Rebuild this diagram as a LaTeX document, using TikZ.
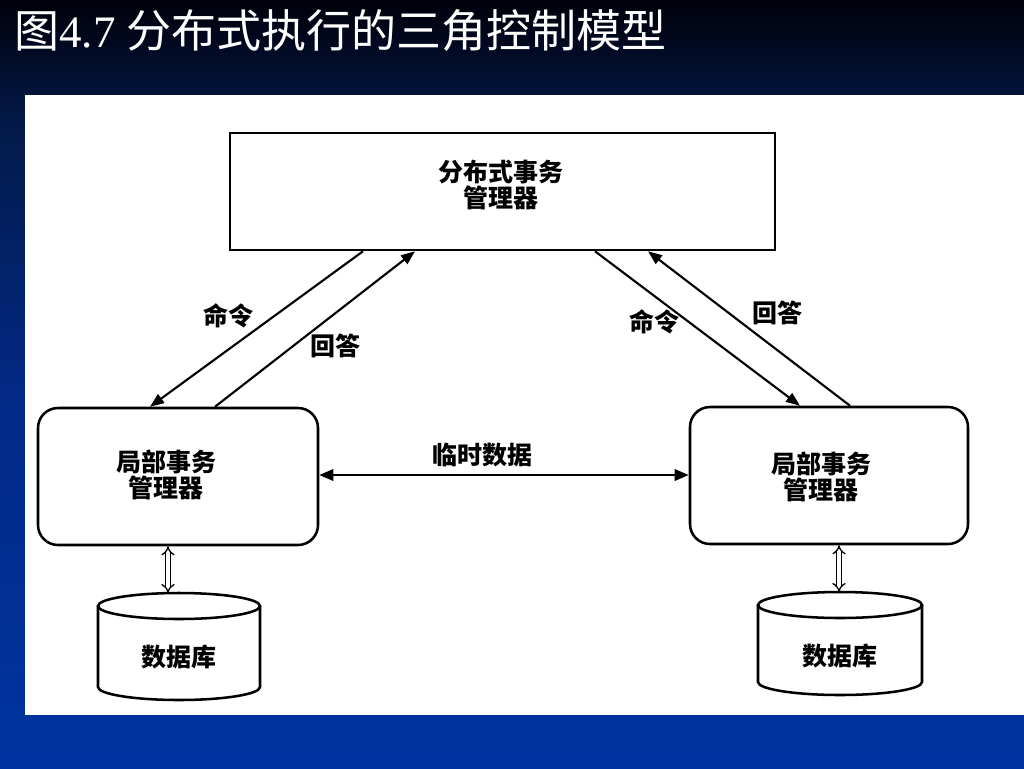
\documentclass[tikz,border=0pt]{standalone}
\usepackage{fontspec}
\setmainfont{Liberation Serif}
\newfontfamily\cjk{Noto Sans CJK SC}
\usetikzlibrary{arrows.meta,calc}
\definecolor{bgA}{RGB}{0,0,10}
\definecolor{bgB}{RGB}{3,25,72}
\definecolor{bgC}{RGB}{2,42,135}
\definecolor{bgD}{RGB}{0,51,160}
\begin{document}
\begin{tikzpicture}[x=0.75pt,y=-0.75pt,
  cjkfont/.style={font=\cjk\bfseries\fontsize{18.75pt}{19.5pt}\selectfont},
  box/.style={draw=black,line width=1.9pt,inner sep=0pt},
  lbl/.style={inner sep=0pt,align=center,cjkfont},
  arr/.style={draw=black,line width=1.6pt,-{Triangle[length=10.5pt,width=8pt]}},
  arrboth/.style={draw=black,line width=1.8pt,{Triangle[length=10.5pt,width=8.5pt]}-{Triangle[length=10.5pt,width=8.5pt]}},
  dbl/.style={draw=black,double=white,double distance=2.4pt,line width=1pt,{Implies}-{Implies}},
  cyl/.style={draw=black,line width=1.9pt}
]
\useasboundingbox (0,0) rectangle (1024,768);
% background
\shade[top color=bgA,bottom color=bgB] (0,0) rectangle (1024,121);
\shade[top color=bgB,bottom color=bgC] (0,120) rectangle (1024,401);
\shade[top color=bgC,bottom color=bgD] (0,400) rectangle (1024,768);
% title
\node[anchor=base west,text=white,inner sep=0pt,font=\fontsize{33.75pt}{36pt}\selectfont] (title) at (14,47) {{\cjk 图}4.7 {\cjk 分布式执行的三角控制模型}};
% white panel
\fill[white] (25,95) rectangle (1024,715);
% boxes
\node[box,minimum width=408.75pt,minimum height=87.75pt] (dtm) at (502.5,191.5) {};
\node[lbl] (dtmt) at (501,185) {分布式事务\\管理器};
\node[box,rounded corners=15pt,minimum width=210pt,minimum height=102.75pt] (ltmL) at (178,476.5) {};
\node[lbl] (ltmLt) at (166,475) {局部事务\\管理器};
\node[box,rounded corners=15pt,minimum width=208.5pt,minimum height=102.75pt] (ltmR) at (829,475.5) {};
\node[lbl] (ltmRt) at (821,477) {局部事务\\管理器};
% databases
\draw[cyl] (98,606) -- (98,687) arc[start angle=180,end angle=360,x radius=60.75pt,y radius=9.75pt] -- (260,606);
\draw[cyl] (179,606) ellipse[x radius=60.75pt,y radius=9.75pt];
\coordinate (db1top) at (168,593);
\node[lbl] (db1) at (179,657) {数据库};
\draw[cyl] (758,605) -- (758,682) arc[start angle=180,end angle=360,x radius=61.5pt,y radius=9.75pt] -- (922,605);
\draw[cyl] (840,605) ellipse[x radius=61.5pt,y radius=9.75pt];
\coordinate (db2top) at (839,592);
\node[lbl] (db2) at (840,656) {数据库};
% connectors
\draw[arr] (363,0 |- dtm.south) -- (150,0 |- ltmL.north);
\draw[arr] (215,0 |- ltmL.north) -- (415,0 |- dtm.south);
\draw[arr] (595,0 |- dtm.south) -- (800,0 |- ltmR.north);
\draw[arr] (850,0 |- ltmR.north) -- (648,0 |- dtm.south);
\draw[arrboth] (ltmL.east |- 0,475) -- (ltmR.west |- 0,475);
\draw[dbl] (168,0 |- ltmL.south) -- (db1top);
\draw[dbl] (839,0 |- ltmR.south) -- (db2top);
% labels
\node[lbl] (l1) at (228,316) {命令};
\node[lbl] (l2) at (335,346) {回答};
\node[lbl] (l3) at (654,322) {命令};
\node[lbl] (l4) at (777,313) {回答};
\node[lbl] (l5) at (482,455) {临时数据};
\end{tikzpicture}
\end{document}
